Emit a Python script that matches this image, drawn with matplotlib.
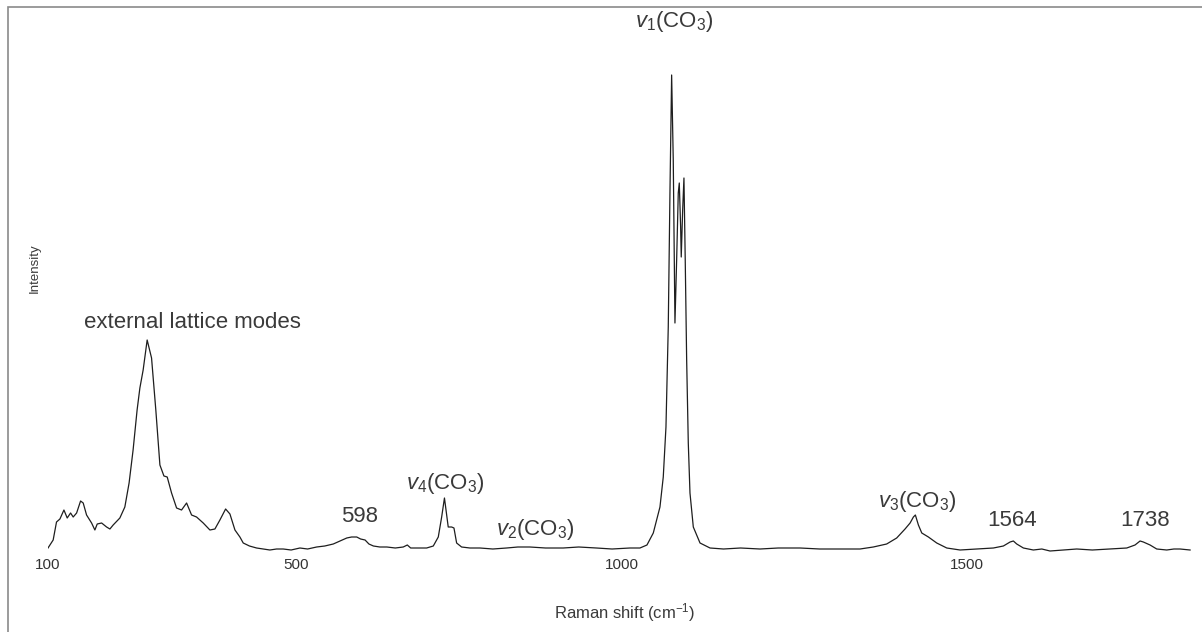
import numpy as np
import matplotlib
matplotlib.use("Agg")
import matplotlib.pyplot as plt
from matplotlib.patches import Rectangle

plt.rcParams['font.family'] = ['Liberation Sans', 'DejaVu Sans']
plt.rcParams['mathtext.fontset'] = 'custom'
plt.rcParams['mathtext.rm'] = 'Liberation Sans'
plt.rcParams['mathtext.it'] = 'Liberation Sans:italic'
plt.rcParams['mathtext.bf'] = 'Liberation Sans:bold'

# Raman spectrum (shift in cm-1, intensity in arb. units)
shift = [100, 108.5, 114, 119.6, 126.2, 131.6, 137.1, 141.4, 147, 153.5,
         157.8, 163.3, 171.5, 176.9, 180.7, 187.9, 196, 201.4, 206.7, 217.6,
         225.7, 232.6, 239.1, 245.6, 250.1, 255.4, 261.9, 269, 275.9, 282.5,
         289, 294.3, 301.3, 309.4, 317.4, 325.5, 333.5, 341.5, 352.2, 362.9,
         370.9, 378.9, 388, 394.9, 402.9, 410.8, 416.1, 426, 437.3, 448, 458.4,
         469, 479.5, 492, 505.9, 518, 532.2, 545, 558.3, 569, 579.4, 587, 595,
         601, 608, 614, 621, 631, 641.9, 655, 667.3, 673.6, 678.8, 690, 703.5,
         713.7, 721.4, 726.6, 730.9, 736.7, 741.9, 745.5, 749.6, 757.2, 770,
         785.3, 805, 826, 843, 861.3, 885, 911.6, 935, 961.6, 985, 1011.7,
         1026.6, 1037, 1046.4, 1056.3, 1061.2, 1065.2, 1068.6, 1071.1, 1073.6,
         1076, 1077.5, 1078.5, 1081, 1083.4, 1084.9, 1086.9, 1087.8, 1089.9,
         1091.8, 1093.7, 1095.8, 1098.2, 1100.7, 1105.6, 1115.5, 1130.2, 1150,
         1175, 1203.4, 1230, 1261.6, 1290, 1319.3, 1348.1, 1367.1, 1386.2,
         1400.5, 1412.4, 1419.6, 1424.3, 1427.1, 1431.4, 1436.2, 1445.6,
         1457.4, 1471.6, 1490.4, 1513.9, 1537.3, 1551.3, 1560.7, 1565.3, 1570,
         1579.3, 1593.2, 1605, 1616.4, 1635, 1653.5, 1675, 1699.5, 1722.5,
         1733.8, 1740.7, 1745.2, 1754.4, 1763.5, 1777.2, 1787, 1795.3, 1809]
intensity = [2, 10, 28, 31, 40, 32, 37, 33, 37, 49,
             47, 35, 27, 20, 26, 27, 23, 21, 25, 32,
             43, 67, 100, 140, 162, 180, 210, 192, 140, 85,
             74, 73, 57, 42, 40, 47, 35, 33, 27, 20,
             21, 30, 41, 36, 20, 13, 7, 4, 2, 1, 0,
             1, 1, 0, 2, 1, 3, 4, 6, 9, 12, 13, 13,
             11, 10, 6, 4, 3, 3, 2, 3, 5, 2, 2, 2,
             4, 13, 33, 52, 23, 23, 22, 7, 3, 2,
             2, 1, 2, 3, 3, 2, 2, 3, 2, 1, 2,
             2, 5, 17, 43, 73, 123, 223, 357, 475,
             390, 290, 227, 290, 357, 367, 323, 293, 340,
             372, 290, 190, 107, 57, 23, 7, 2, 1,
             2, 1, 2, 2, 1, 1, 1, 3, 6,
             12, 21, 27, 33, 35, 25, 17, 13,
             7, 2, 0, 1, 2, 4, 8, 9, 6,
             2, 0, 1, -1, 0, 1, 0, 1, 2,
             5, 9, 8, 5, 1, 0, 1, 1, 0]

tick_values = [100, 500, 1000, 1500]

# peak labels: (text, shift position, intensity position)
label_text = ["external lattice modes", "598",
              r"$v_{\mathit{4}}$(CO$_3$)", r"$v_{\mathit{2}}$(CO$_3$)",
              r"$v_{\mathit{1}}$(CO$_3$)", r"$v_{\mathit{3}}$(CO$_3$)",
              "1564", "1738"]
label_x = [335, 600, 733, 869, 1077, 1430, 1564, 1747]
label_y = [228, 33, 67, 20, 528, 48, 30, 30]

# spectrometer axis is linear in wavelength (532 nm laser)
laser = 1e7 / 532.0


def to_wl(v):
    return 1e7 / (laser - np.asarray(v, dtype=float))


def from_wl(w):
    return laser - 1e7 / np.asarray(w, dtype=float)


fig = plt.figure(figsize=(12.02, 6.32), dpi=100)
ax = fig.add_axes([48 / 1202, 77 / 632, 1146.5 / 1202, 495 / 632])
ax.set_xscale('function', functions=(to_wl, from_wl))
ax.plot(shift, intensity, color='#1e1e1e', lw=0.9)
ax.set_xlim(100, 1815)
ax.set_ylim(-5, 490)

for s in ax.spines.values():
    s.set_visible(False)
ax.set_yticks([])
ax.set_xticks(tick_values)
ax.set_xticklabels([str(t) for t in tick_values])
ax.xaxis.set_minor_locator(plt.NullLocator())
ax.tick_params(axis='x', length=0, pad=2, labelsize=11, labelcolor='#333333')

for t, x, y in zip(label_text, label_x, label_y):
    ax.text(x, y, t, ha='center', va='center', fontsize=16, color='#3a3a3a',
            clip_on=False)

fig.text(35 / 1202, 1 - 268 / 632, "Intensity", rotation=90, ha='center',
         va='center', fontsize=9.5, color='#3a3a3a')
fig.text(625 / 1202, 1 - 613 / 632, "Raman shift (cm$^{-1}$)", ha='center',
         va='center', fontsize=12, color='#3a3a3a')

# outer frame
fig.add_artist(Rectangle((8 / 1202, -0.1), 1.2, 0.1 + 625 / 632,
                         transform=fig.transFigure, fill=False,
                         edgecolor='#8a8a8a', lw=1.2))

fig.savefig("out.png", dpi=100)
